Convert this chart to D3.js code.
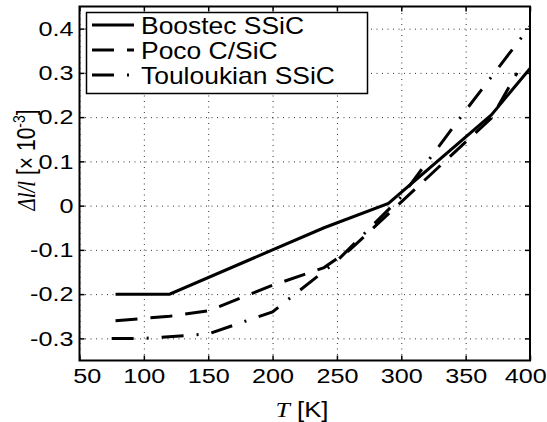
<!DOCTYPE html>
<html>
<head>
<meta charset="utf-8">
<script src="https://cdn.jsdelivr.net/npm/d3@7"></script>
<style>
  body { margin: 0; background: #fff; }
  svg { display: block; }
  text { font-family: "Liberation Sans", Arial, Helvetica, sans-serif; fill: #000; }
</style>
</head>
<body>
<div id="chart"></div>
<script>
// data (T in K, dl/l in 1e-3)
const boostecT = [78, 120, 240, 290, 370, 400];
const boostecV = [-0.2, -0.2, -0.05, 0.005, 0.205, 0.31];

const pocoT = [78, 120, 150, 200, 240, 260, 370, 390];
const pocoV = [-0.26, -0.25, -0.238, -0.18, -0.14, -0.1, 0.198, 0.3];

const touloT = [75, 100, 150, 200, 250, 300, 350, 400];
const touloV = [-0.3, -0.3, -0.29, -0.24, -0.125, 0.02, 0.215, 0.405];

const seriesNames = ["Boostec SSiC", "Poco C/SiC", "Touloukian SSiC"];

const xTicks = [50, 100, 150, 200, 250, 300, 350, 400];
const yTicks = [-0.3, -0.2, -0.1, 0, 0.1, 0.2, 0.3, 0.4];
const yTickLabels = ["-0.3", "-0.2", "-0.1", "0", "0.1", "0.2", "0.3", "0.4"];

const width = 547, height = 422;
const plot = { left: 79.5, right: 530, top: 6.5, bottom: 360.5 };
const stretch = 1.2; // the original picture is wider than tall

const svg = d3.select("#chart").append("svg")
    .attr("width", width)
    .attr("height", height);

const x = d3.scaleLinear().domain([50, 400]).range([plot.left, plot.right]);
const y = d3.scaleLinear().domain([-0.35, 0.45]).range([plot.bottom, plot.top]);

// dotted grid
svg.append("g")
    .attr("transform", `translate(0,${plot.bottom})`)
    .call(d3.axisBottom(x).tickValues(xTicks).tickSize(-(plot.bottom - plot.top)).tickFormat(""))
    .call(g => g.select(".domain").remove())
    .selectAll("line")
    .attr("stroke", "#333").attr("stroke-width", 1).attr("stroke-dasharray", "1,4.5");

svg.append("g")
    .attr("transform", `translate(${plot.left},0)`)
    .call(d3.axisLeft(y).tickValues(yTicks).tickSize(-(plot.right - plot.left)).tickFormat(""))
    .call(g => g.select(".domain").remove())
    .selectAll("line")
    .attr("stroke", "#333").attr("stroke-width", 1).attr("stroke-dasharray", "1,4.5");

// lines
const line = d3.line().x(d => x(d[0])).y(d => y(d[1]));
const series = [
    { t: boostecT, v: boostecV, dash: null },
    { t: pocoT, v: pocoV, dash: "22,13" },
    { t: touloT, v: touloV, dash: "22,13,2,13" }
];

series.forEach(s => {
    svg.append("path")
        .datum(d3.zip(s.t, s.v))
        .attr("fill", "none")
        .attr("stroke", "#000")
        .attr("stroke-width", 3)
        .attr("stroke-dasharray", s.dash)
        .attr("d", line);
});

// axes with inward ticks
const fontSize = 21;

const bottomAxis = svg.append("g")
    .attr("transform", `translate(0,${plot.bottom})`)
    .call(d3.axisBottom(x).tickValues(xTicks).tickSizeInner(-5).tickSizeOuter(0).tickPadding(8).tickFormat(d3.format("d")));
bottomAxis.select(".domain").remove();
bottomAxis.selectAll("line").attr("stroke", "#000").attr("stroke-width", 1.5);
bottomAxis.selectAll("text")
    .attr("font-size", fontSize)
    .attr("font-family", null)
    .attr("x", d => d === 50 ? 6 : d === 400 ? -4 : 0)
    .attr("transform", `scale(${stretch},1)`);

const leftAxis = svg.append("g")
    .attr("transform", `translate(${plot.left},0)`)
    .call(d3.axisLeft(y).tickValues(yTicks).tickSizeInner(-5).tickSizeOuter(0).tickFormat((d, i) => yTickLabels[i]));
leftAxis.select(".domain").remove();
leftAxis.selectAll("line").attr("stroke", "#000").attr("stroke-width", 1.5);
leftAxis.selectAll("text")
    .attr("font-size", fontSize)
    .attr("font-family", null)
    .attr("x", -5)
    .attr("transform", `scale(${stretch},1)`);

const topAxis = svg.append("g")
    .attr("transform", `translate(0,${plot.top})`)
    .call(d3.axisTop(x).tickValues(xTicks).tickSizeInner(-5).tickSizeOuter(0).tickFormat(""));
topAxis.select(".domain").remove();
topAxis.selectAll("line").attr("stroke", "#000").attr("stroke-width", 1.5);

const rightAxis = svg.append("g")
    .attr("transform", `translate(${plot.right},0)`)
    .call(d3.axisRight(y).tickValues(yTicks).tickSizeInner(-5).tickSizeOuter(0).tickFormat(""));
rightAxis.select(".domain").remove();
rightAxis.selectAll("line").attr("stroke", "#000").attr("stroke-width", 1.5);

// frame
svg.append("rect")
    .attr("x", plot.left).attr("y", plot.top)
    .attr("width", plot.right - plot.left).attr("height", plot.bottom - plot.top)
    .attr("fill", "none").attr("stroke", "#000").attr("stroke-width", 2);

// legend
const legend = svg.append("g");
legend.append("rect")
    .attr("x", 86.5).attr("y", 12.5)
    .attr("width", 281).attr("height", 81)
    .attr("fill", "#fff").attr("stroke", "#000").attr("stroke-width", 1.5);

seriesNames.forEach((name, i) => {
    const cy = 25 + i * 25;
    legend.append("line")
        .attr("x1", 92).attr("x2", 134)
        .attr("y1", cy).attr("y2", cy)
        .attr("stroke", "#000").attr("stroke-width", 3)
        .attr("stroke-dasharray", series[i].dash);
    legend.append("text")
        .attr("transform", `translate(141,${cy + 8.5}) scale(1.15,1)`)
        .attr("font-size", 23)
        .text(name);
});

// axis titles
const xLabel = svg.append("text")
    .attr("transform", `translate(302,417) scale(${stretch},1)`)
    .attr("text-anchor", "middle")
    .attr("font-size", 21.5);
xLabel.append("tspan")
    .style("font-family", "'Liberation Serif', 'Times New Roman', serif")
    .attr("font-style", "italic")
    .text("T");
xLabel.append("tspan").text(" [K]");

const yLabel = svg.append("text")
    .attr("transform", `translate(35,160) rotate(-90) scale(1,${stretch})`)
    .attr("text-anchor", "middle")
    .attr("font-size", 21);
yLabel.append("tspan")
    .style("font-family", "'Liberation Serif', 'Times New Roman', serif")
    .attr("font-style", "italic")
    .text("\u0394l/l");
yLabel.append("tspan").text(" [\u00d7 10");
yLabel.append("tspan").attr("font-size", 14).attr("dy", -8).text("-3");
yLabel.append("tspan").attr("dy", 8).text("]");
</script>
</body>
</html>
